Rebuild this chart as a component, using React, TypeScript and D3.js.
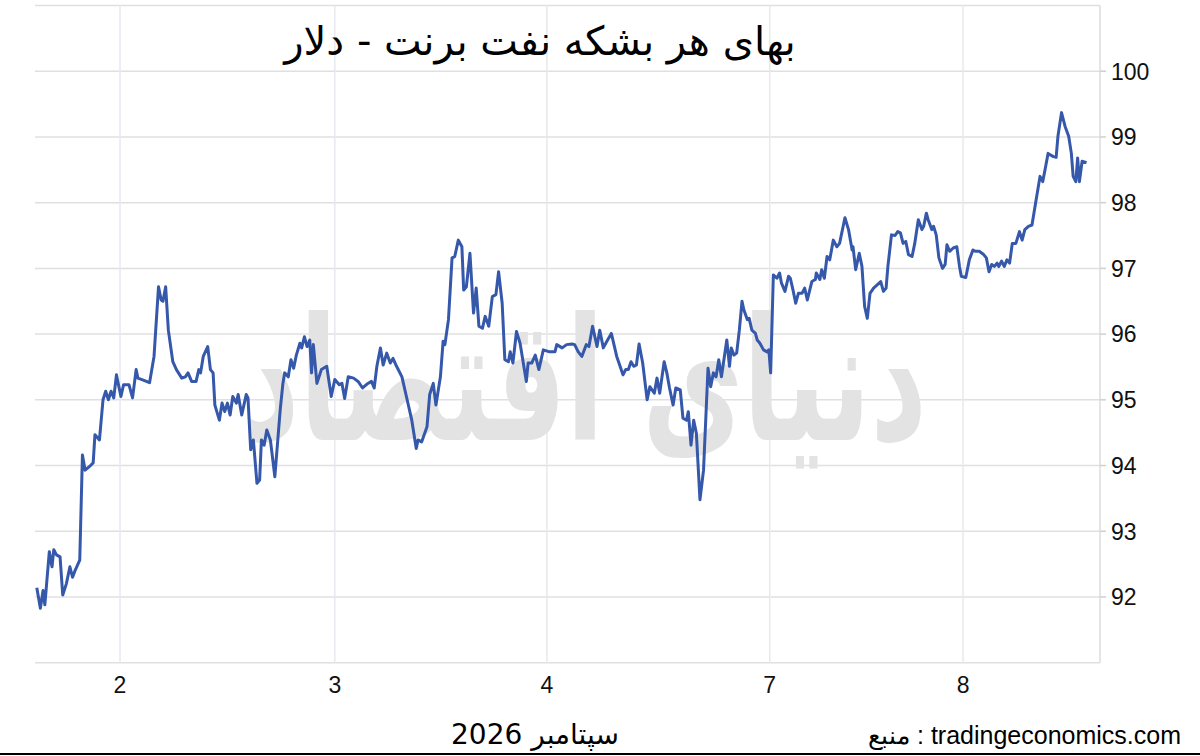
import React from "react";
import * as d3 from "d3";

const titleText = "بهای هر بشکه نفت برنت - دلار";
const monthLabel = "سپتامبر 2026";
const sourceLabel = "منبع : tradingeconomics.com";
const watermarkText = "دنیای اقتصاد";

// trading hours since start of the window
const hours = [
  0.2, 0.6, 0.9, 1.1, 1.6, 1.9, 2.1, 2.4, 2.8, 3.1, 3.5, 3.9, 4.2, 4.5, 5.0, 5.3, 5.6, 6.2, 6.5, 6.7,
  7.2, 7.6, 7.9, 8.2, 8.5, 8.8, 9.1, 9.6, 9.9, 10.5, 10.9, 11.3, 11.5, 12.1, 12.8, 13.3, 13.8, 14.1, 14.3, 14.6,
  14.9, 15.4, 15.8, 16.4, 16.8, 17.1, 17.5, 18.0, 18.3, 18.5, 18.8, 19.3, 19.6, 19.9, 20.1, 20.6, 20.9, 21.2, 21.5, 21.8,
  22.1, 22.5, 22.7, 23.1, 23.6, 23.8, 24.1, 24.4, 24.8, 25.1, 25.3, 25.6, 25.9, 26.3, 26.8, 27.4, 27.7, 27.9, 28.3, 28.6,
  28.9, 29.2, 29.6, 29.8, 30.1, 30.4, 30.7, 30.9, 31.1, 31.5, 32.0, 32.6, 33.1, 33.5, 34.0, 34.3, 34.6, 35.0, 35.6, 36.1,
  36.6, 37.1, 37.6, 37.9, 38.2, 38.6, 38.9, 39.3, 39.7, 40.0, 40.4, 41.0, 41.5, 42.1, 42.6, 42.8, 43.2, 43.8, 44.1, 44.5,
  44.8, 45.3, 45.6, 45.8, 46.2, 46.6, 46.9, 47.3, 47.7, 47.9, 48.2, 48.6, 49.0, 49.3, 49.6, 50.0, 50.3, 50.7, 51.1, 51.5,
  51.8, 52.2, 52.5, 52.9, 53.1, 53.4, 53.8, 54.2, 54.9, 55.1, 55.5, 55.9, 56.3, 56.8, 57.5, 58.1, 58.3, 58.9, 59.4, 60.0,
  60.3, 60.7, 61.1, 61.6, 61.9, 62.3, 62.8, 63.1, 63.5, 63.9, 64.4, 65.0, 65.7, 66.0, 66.3, 66.6, 66.9, 67.2, 67.5, 67.9,
  68.4, 68.7, 69.2, 69.5, 69.8, 70.3, 70.6, 70.9, 71.3, 71.6, 72.1, 72.4, 72.8, 73.0, 73.3, 73.6, 73.9, 74.3, 74.7, 75.2,
  75.5, 75.8, 76.1, 76.4, 76.7, 77.3, 77.6, 77.8, 78.1, 78.4, 78.7, 79.0, 79.2, 79.6, 79.8, 80.1, 80.5, 80.7, 81.0, 81.4,
  81.8, 82.0, 82.2, 82.5, 82.9, 83.2, 83.4, 83.8, 84.2, 84.4, 84.7, 85.0, 85.3, 85.7, 86.0, 86.3, 86.8, 87.2, 87.3, 87.7,
  87.9, 88.2, 88.5, 88.8, 89.2, 89.6, 89.9, 90.5, 90.9, 91.3, 91.4, 91.7, 92.1, 92.4, 92.7, 93.0, 93.3, 93.7, 94.1, 94.5,
  94.8, 95.1, 95.3, 95.7, 96.1, 96.4, 96.7, 97.0, 97.3, 97.6, 98.0, 98.3, 98.7, 99.1, 99.3, 99.6, 99.8, 100.2, 100.4, 100.7,
  101.0, 101.4, 101.7, 101.9, 102.2, 102.6, 103.0, 103.3, 103.5, 104.0, 104.4, 104.8, 105.1, 105.5, 106.0, 106.3, 106.6, 106.9, 107.2, 107.5,
  107.7, 108.0, 108.3, 108.6, 108.9, 109.2, 109.6, 110.0, 110.3, 110.6, 111.0, 111.4, 111.8, 112.3, 112.6, 112.9, 113.2, 113.4, 113.8, 114.1,
  114.3, 114.7, 115.1, 115.5, 115.8, 116.0, 116.3, 116.5, 116.7, 117.0, 117.5,
];

const prices = [
  92.14, 91.83, 92.10, 91.88, 92.69, 92.46, 92.72, 92.64, 92.61, 92.03, 92.20, 92.46, 92.30, 92.41, 92.56, 94.16, 93.93, 94.00, 94.04, 94.47,
  94.39, 95.00, 95.13, 95.00, 95.13, 95.03, 95.38, 95.05, 95.23, 95.23, 95.03, 95.46, 95.33, 95.30, 95.26, 95.66, 96.72, 96.52, 96.50, 96.72,
  96.06, 95.58, 95.46, 95.33, 95.35, 95.41, 95.28, 95.28, 95.46, 95.41, 95.66, 95.81, 95.46, 95.41, 94.92, 94.69, 94.95, 94.82, 94.95, 94.77,
  95.05, 94.95, 95.08, 94.77, 95.08, 95.03, 94.24, 94.39, 93.73, 93.78, 94.39, 94.31, 94.54, 94.39, 93.83, 94.85, 95.25, 95.41, 95.35, 95.61,
  95.48, 95.68, 95.86, 95.79, 95.96, 95.81, 95.91, 95.41, 95.84, 95.25, 95.46, 95.51, 95.05, 95.31, 95.23, 95.25, 95.02, 95.35, 95.33, 95.28,
  95.18, 95.24, 95.28, 95.18, 95.51, 95.79, 95.53, 95.71, 95.56, 95.63, 95.51, 95.35, 95.05, 94.69, 94.26, 94.39, 94.36, 94.59, 95.08, 95.25,
  94.92, 95.35, 95.89, 95.84, 96.22, 97.16, 97.18, 97.43, 97.33, 96.67, 96.72, 97.23, 96.32, 96.70, 96.12, 96.09, 96.27, 96.12, 96.57, 96.60,
  96.95, 96.47, 95.61, 95.58, 95.73, 95.56, 96.04, 95.86, 95.28, 95.56, 95.56, 95.68, 95.46, 95.76, 95.73, 95.73, 95.84, 95.79, 95.84, 95.85,
  95.84, 95.73, 95.66, 95.84, 95.81, 96.12, 95.81, 96.06, 95.79, 95.89, 96.01, 95.66, 95.38, 95.46, 95.46, 95.58, 95.51, 95.53, 95.85, 95.56,
  95.00, 95.20, 95.10, 95.33, 95.10, 95.58, 95.41, 95.18, 94.92, 95.18, 95.15, 94.72, 94.69, 94.82, 94.31, 94.69, 94.49, 93.48, 93.93, 95.48,
  95.20, 95.41, 95.35, 95.61, 95.35, 95.91, 95.51, 95.79, 95.68, 95.71, 96.06, 96.50, 96.37, 96.22, 96.24, 96.06, 96.01, 95.91, 95.86, 95.76,
  95.73, 95.76, 95.41, 96.90, 96.85, 96.93, 96.78, 96.65, 96.88, 96.85, 96.67, 96.47, 96.62, 96.62, 96.70, 96.52, 96.80, 96.83, 96.93, 96.83,
  96.98, 96.85, 97.18, 97.13, 97.43, 97.33, 97.38, 97.77, 97.59, 97.28, 97.33, 96.98, 97.23, 97.03, 96.42, 96.24, 96.62, 96.70, 96.75, 96.80,
  96.65, 96.70, 97.03, 97.51, 97.50, 97.56, 97.54, 97.38, 97.41, 97.21, 97.18, 97.38, 97.74, 97.59, 97.64, 97.84, 97.74, 97.59, 97.64, 97.51,
  97.16, 97.00, 97.06, 97.36, 97.26, 97.31, 97.33, 97.03, 96.88, 96.86, 97.13, 97.28, 97.26, 97.26, 97.21, 97.16, 96.95, 97.06, 97.03, 97.08,
  97.03, 97.11, 97.03, 97.13, 97.08, 97.38, 97.38, 97.56, 97.43, 97.59, 97.64, 97.66, 97.99, 98.40, 98.32, 98.53, 98.75, 98.73, 98.70, 98.69,
  99.01, 99.37, 99.16, 99.01, 98.75, 98.40, 98.32, 98.68, 98.32, 98.63, 98.61,
];

const xTickHours = [9.5, 33.5, 57.2, 82.1, 103.7];
const xTickLabels = ["2", "3", "4", "7", "8"];
const yTicks = [92, 93, 94, 95, 96, 97, 98, 99, 100];
const yGrid = [91, 92, 93, 94, 95, 96, 97, 98, 99, 100, 101];

const W = 1200;
const H = 756;
const left = 35;
const right = 1100;
const top = 5.5;
const bottom = 662.7;

export default function App() {
  const x = d3.scaleLinear().domain([0, 119]).range([left, right]);
  const y = d3.scaleLinear().domain([91, 101]).range([bottom, top]);
  const pts: [number, number][] = hours.map((h, i) => [h, prices[i]]);
  const line = d3
    .line<[number, number]>()
    .x((d) => x(d[0]))
    .y((d) => y(d[1]));

  return (
    <svg
      width={W}
      height={H}
      viewBox={`0 0 ${W} ${H}`}
      style={{ position: "absolute", left: 0, top: 0, background: "#fff" }}
      fontFamily="'Liberation Sans', Arial, sans-serif"
    >
      <rect x={0} y={0} width={W} height={H} fill="#fff" />
      {/* horizontal grid */}
      {yGrid.map((v) => (
        <line key={"h" + v} x1={left} x2={right} y1={y(v)} y2={y(v)} stroke="#e0e0e0" strokeWidth={1.5} />
      ))}
      {/* vertical grid */}
      {xTickHours.map((h, i) => (
        <line key={"v" + i} x1={x(h)} x2={x(h)} y1={top} y2={bottom} stroke="#e6e9ee" strokeWidth={1.5} />
      ))}
      {/* right axis */}
      <line x1={right} x2={right} y1={top} y2={bottom} stroke="#dcdcdc" strokeWidth={1.5} />
      {yTicks.map((v) => (
        <g key={"yt" + v}>
          <line x1={right} x2={right + 6} y1={y(v)} y2={y(v)} stroke="#cfcfcf" strokeWidth={1.5} />
          <text x={right + 11} y={y(v)} dy="0.36em" fontSize={23} fill="#111">
            {v}
          </text>
        </g>
      ))}
      {/* watermark */}
      <g transform="translate(585,440) scale(1,1.55)">
        <text
          x={0}
          y={0}
          fontSize={110}
          fill="#e3e3e3"
          textAnchor="middle"
          direction="rtl"
          fontFamily="'DejaVu Sans', sans-serif"
          fontWeight="bold"
        >
          {watermarkText}
        </text>
      </g>
      {/* x tick labels */}
      {xTickHours.map((h, i) => (
        <text key={"xl" + i} x={x(h)} y={685} dy="0.36em" fontSize={23} fill="#111" textAnchor="middle">
          {xTickLabels[i]}
        </text>
      ))}
      {/* price line */}
      <path d={line(pts) || ""} fill="none" stroke="#3558ab" strokeWidth={3} strokeLinejoin="round" />
      {/* title */}
      <text
        x={540}
        y={55}
        fontSize={40}
        fill="#000"
        textAnchor="middle"
        direction="rtl"
        fontFamily="'DejaVu Sans', sans-serif"
      >
        {titleText}
      </text>
      {/* bottom labels */}
      <text
        x={535}
        y={744}
        fontSize={28}
        fill="#000"
        textAnchor="middle"
        direction="rtl"
        fontFamily="'DejaVu Sans', sans-serif"
      >
        {monthLabel}
      </text>
      <text x={1181} y={744} fontSize={25} fill="#000" textAnchor="end">
        {sourceLabel}
      </text>
      <line x1={0} x2={W} y1={754} y2={754} stroke="#000" strokeWidth={2} />
    </svg>
  );
}
